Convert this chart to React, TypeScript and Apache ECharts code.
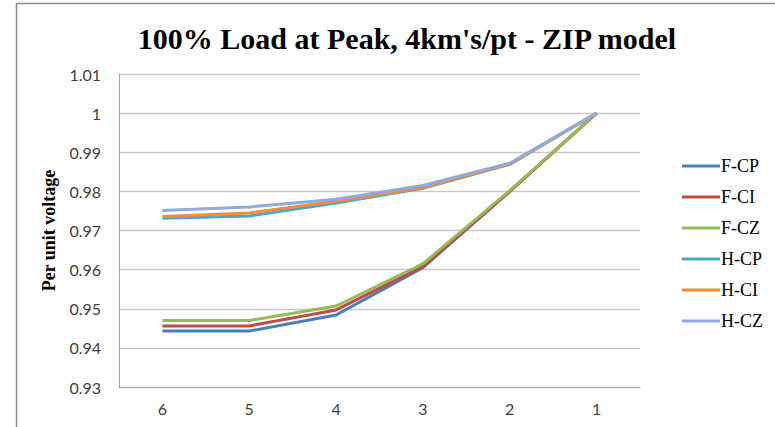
import React, { useEffect, useRef } from "react";
import * as echarts from "echarts";

const categories = ["6", "5", "4", "3", "2", "1"];
const seriesNames = ["F-CP", "F-CI", "F-CZ", "H-CP", "H-CI", "H-CZ"];
const fCP = [0.9443, 0.9443, 0.9484, 0.9605, 0.98, 1.0];
const fCI = [0.9456, 0.9456, 0.9497, 0.9608, 0.98, 1.0];
const fCZ = [0.947, 0.947, 0.9507, 0.9615, 0.9802, 1.0];
const hCP = [0.9731, 0.9737, 0.977, 0.9808, 0.9869, 1.0];
const hCI = [0.9736, 0.9745, 0.9775, 0.981, 0.987, 1.0];
const hCZ = [0.9751, 0.976, 0.978, 0.9815, 0.9872, 1.0];
const seriesData = [fCP, fCI, fCZ, hCP, hCI, hCZ];
const colors = ["#4A7EBB", "#BE4B48", "#98B954", "#46AAC5", "#F38B3C", "#8FAADC"];

export default function App() {
  const ref = useRef<HTMLDivElement>(null);
  useEffect(() => {
    if (!ref.current) return;
    const chart = echarts.init(ref.current, undefined, { renderer: "svg" });
    chart.setOption({
      animation: false,
      backgroundColor: "#ffffff",
      title: {
        text: "100% Load at Peak, 4km's/pt - ZIP model",
        left: 402,
        top: 18,
        textAlign: "center",
        textStyle: {
          fontFamily: "Liberation Serif",
          fontWeight: "bold",
          fontSize: 30,
          color: "#000000",
        },
      },
      graphic: [
        {
          type: "rect",
          shape: { x: 16.5, y: 3.5, width: 800, height: 500 },
          style: { fill: "none", stroke: "#8c8c8c", lineWidth: 1.5 },
          silent: true,
        },
      ],
      legend: {
        orient: "vertical",
        left: 677,
        top: 152,
        icon: "rect",
        itemWidth: 38,
        itemHeight: 3,
        itemGap: 13,
        data: seriesNames,
        textStyle: {
          fontFamily: "Liberation Serif",
          fontSize: 18,
          color: "#000000",
          padding: [0, 0, 0, -4],
        },
      },
      grid: { left: 119, right: 135, top: 74, bottom: 40 },
      xAxis: {
        type: "category",
        data: categories,
        boundaryGap: true,
        axisLine: { lineStyle: { color: "#a6a6a6", width: 1 } },
        axisTick: { show: false },
        axisLabel: {
          fontFamily: "Lato",
          fontSize: 16,
          color: "#404040",
          margin: 13,
        },
      },
      yAxis: {
        type: "value",
        min: 0.93,
        max: 1.01,
        interval: 0.01,
        name: "Per unit voltage",
        nameLocation: "middle",
        nameRotate: 90,
        nameGap: 60,
        nameTextStyle: {
          fontFamily: "Liberation Serif",
          fontWeight: "bold",
          fontSize: 18,
          color: "#000000",
        },
        axisLine: { show: true, lineStyle: { color: "#a6a6a6", width: 1 } },
        axisTick: { show: false },
        splitLine: { lineStyle: { color: "#c8c8c8", width: 1.3 } },
        axisLabel: {
          fontFamily: "Lato",
          fontSize: 16,
          color: "#404040",
          margin: 18,
          formatter: (v: number) => String(parseFloat(v.toFixed(2))),
        },
      },
      series: seriesNames.map((n, i) => ({
        name: n,
        type: "line",
        data: seriesData[i],
        symbol: "none",
        color: colors[i],
        lineStyle: { width: 3, color: colors[i] },
        z: 2 + i,
      })),
    });
    return () => chart.dispose();
  }, []);
  return (
    <div
      ref={ref}
      style={{ position: "fixed", left: 0, top: 0, width: 775, height: 427 }}
    />
  );
}
